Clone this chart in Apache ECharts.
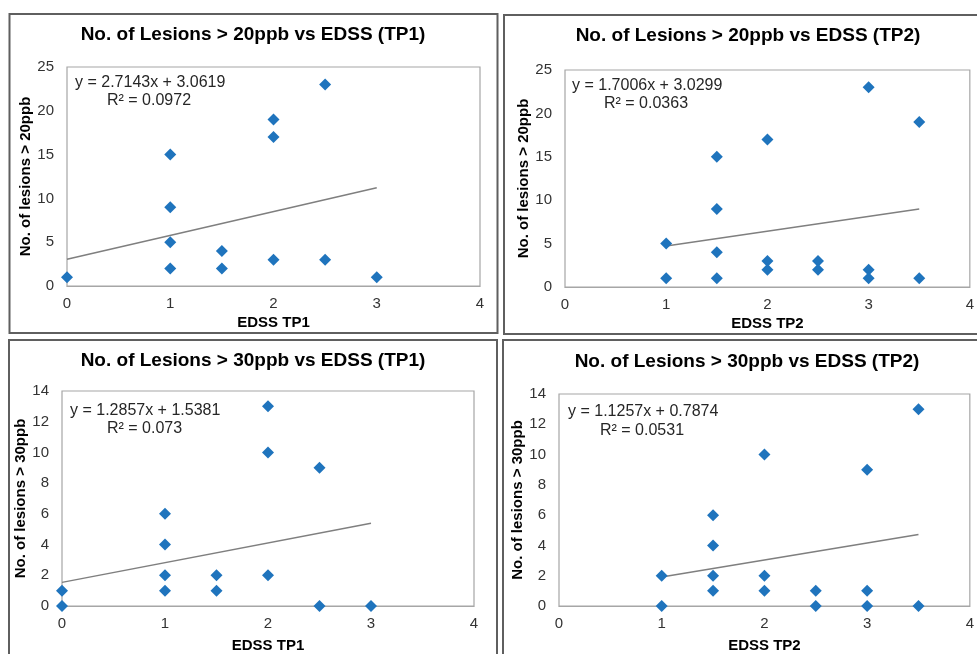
<!DOCTYPE html>
<html>
<head>
<meta charset="utf-8">
<script src="https://cdn.jsdelivr.net/npm/echarts@6/dist/echarts.min.js"></script>
<style>
html,body{margin:0;padding:0;background:#fff;}
#c{width:977px;height:654px;}
</style>
</head>
<body>
<div id="c"></div>
<script>
// ---- Data ----
const titles = [
  "No. of Lesions > 20ppb vs EDSS (TP1)",
  "No. of Lesions > 20ppb vs EDSS (TP2)",
  "No. of Lesions > 30ppb vs EDSS (TP1)",
  "No. of Lesions > 30ppb vs EDSS (TP2)"
];
const xNames = ["EDSS TP1", "EDSS TP2", "EDSS TP1", "EDSS TP2"];
const yNames = ["No. of lesions > 20ppb", "No. of lesions > 20ppb", "No. of lesions > 30ppb", "No. of lesions > 30ppb"];
const yMax = [25, 25, 14, 14];
const yInterval = [5, 5, 2, 2];
const xMax = [4, 4, 4, 4];

const p1X = [0, 1, 1, 1, 1, 1.5, 1.5, 2, 2, 2, 2.5, 2.5, 3];
const p1Y = [1, 15, 9, 5, 2, 4, 2, 19, 17, 3, 23, 3, 1];
const p2X = [1, 1, 1.5, 1.5, 1.5, 1.5, 2, 2, 2, 2.5, 2.5, 3, 3, 3, 3.5, 3.5];
const p2Y = [5, 1, 15, 9, 4, 1, 17, 3, 2, 3, 2, 23, 2, 1, 19, 1];
const p3X = [0, 0, 1, 1, 1, 1, 1.5, 1.5, 2, 2, 2, 2.5, 2.5, 3];
const p3Y = [1, 0, 6, 4, 2, 1, 2, 1, 13, 10, 2, 9, 0, 0];
const p4X = [1, 1, 1.5, 1.5, 1.5, 1.5, 2, 2, 2, 2.5, 2.5, 3, 3, 3, 3.5, 3.5];
const p4Y = [2, 0, 6, 4, 2, 1, 10, 2, 1, 1, 0, 9, 1, 0, 13, 0];

const slopes = [2.7143, 1.7006, 1.2857, 1.1257];
const intercepts = [3.0619, 3.0299, 1.5381, 0.7874];
const eqTexts = ["y = 2.7143x + 3.0619", "y = 1.7006x + 3.0299", "y = 1.2857x + 1.5381", "y = 1.1257x + 0.7874"];
const r2Texts = ["R² = 0.0972", "R² = 0.0363", "R² = 0.073", "R² = 0.0531"];

// ---- Layout ----
const FONT = 'Arial, "Liberation Sans", sans-serif';
const grids = [
  {left: 67, top: 67, width: 413, height: 219},
  {left: 565, top: 70, width: 407, height: 217},
  {left: 62, top: 391, width: 412, height: 218},
  {left: 559, top: 394, width: 413, height: 213}
];
const titlePos = [[253, 25], [748, 26], [253, 351], [747, 352]];
const eqPos = [[75, 83, 107, 101], [572, 86, 604, 104], [70, 411, 107, 429], [568, 412, 600, 431]];
const panels = [[9.5, 14, 488, 319], [504, 15, 490, 319], [9, 340, 488, 330], [503, 340, 490, 330]];
const xNameGap = [29, 29, 32, 32];

const xs = [p1X, p2X, p3X, p4X];
const ys = [p1Y, p2Y, p3Y, p4Y];

const option = {
  animation: false,
  backgroundColor: '#fff',
  textStyle: {fontFamily: FONT},
  title: titles.map((t, i) => ({
    text: t, left: titlePos[i][0], top: titlePos[i][1], textAlign: 'center', padding: 0,
    textStyle: {fontFamily: FONT, fontSize: 19, fontWeight: 'bold', color: '#000'}
  })),
  grid: grids.map(g => Object.assign({show: true, borderColor: '#a6a6a6', borderWidth: 1.2, backgroundColor: 'transparent'}, g)),
  xAxis: grids.map((g, i) => ({
    type: 'value', gridIndex: i, min: 0, max: xMax[i], interval: 1,
    name: xNames[i], nameLocation: 'middle', nameGap: xNameGap[i],
    nameTextStyle: {fontFamily: FONT, fontSize: 15, fontWeight: 'bold', color: '#000'},
    axisLine: {show: true, lineStyle: {color: '#a6a6a6', width: 1.2}},
    axisTick: {show: false},
    splitLine: {show: false},
    axisLabel: {fontFamily: FONT, fontSize: 15, color: '#333', margin: 10}
  })),
  yAxis: grids.map((g, i) => ({
    type: 'value', gridIndex: i, min: 0, max: yMax[i], interval: yInterval[i],
    name: yNames[i], nameLocation: 'middle', nameGap: 34,
    nameTextStyle: {fontFamily: FONT, fontSize: 15, fontWeight: 'bold', color: '#000'},
    axisLine: {show: false},
    axisTick: {show: false},
    splitLine: {show: false},
    axisLabel: {fontFamily: FONT, fontSize: 15, color: '#333', margin: 13}
  })),
  series: [],
  graphic: []
};

for (let i = 0; i < 4; i++) {
  const xmin = Math.min.apply(null, xs[i]);
  const xmax = Math.max.apply(null, xs[i]);
  option.series.push({
    type: 'line', xAxisIndex: i, yAxisIndex: i, showSymbol: false, symbol: 'none',
    lineStyle: {color: '#7f7f7f', width: 1.5}, silent: true, z: 2,
    data: [[xmin, slopes[i] * xmin + intercepts[i]], [xmax, slopes[i] * xmax + intercepts[i]]]
  });
  option.series.push({
    type: 'scatter', xAxisIndex: i, yAxisIndex: i, symbol: 'diamond', symbolSize: 12,
    itemStyle: {color: '#1f74bd', opacity: 1}, z: 3,
    data: xs[i].map((x, k) => [x, ys[i][k]])
  });
  const p = panels[i];
  option.graphic.push({
    type: 'rect', shape: {x: p[0], y: p[1], width: p[2], height: p[3]},
    style: {fill: 'none', stroke: '#5f5f5f', lineWidth: 2}, z: 10, silent: true
  });
  const e = eqPos[i];
  option.graphic.push({
    type: 'text', x: e[0], y: e[1],
    style: {text: eqTexts[i], font: '16px ' + FONT, fill: '#262626', textVerticalAlign: 'middle', verticalAlign: 'middle'}, z: 10
  });
  option.graphic.push({
    type: 'text', x: e[2], y: e[3],
    style: {text: r2Texts[i], font: '16px ' + FONT, fill: '#262626', textVerticalAlign: 'middle', verticalAlign: 'middle'}, z: 10
  });
}

const chart = echarts.init(document.getElementById('c'), null, {renderer: 'canvas'});
chart.setOption(option);
</script>
</body>
</html>
